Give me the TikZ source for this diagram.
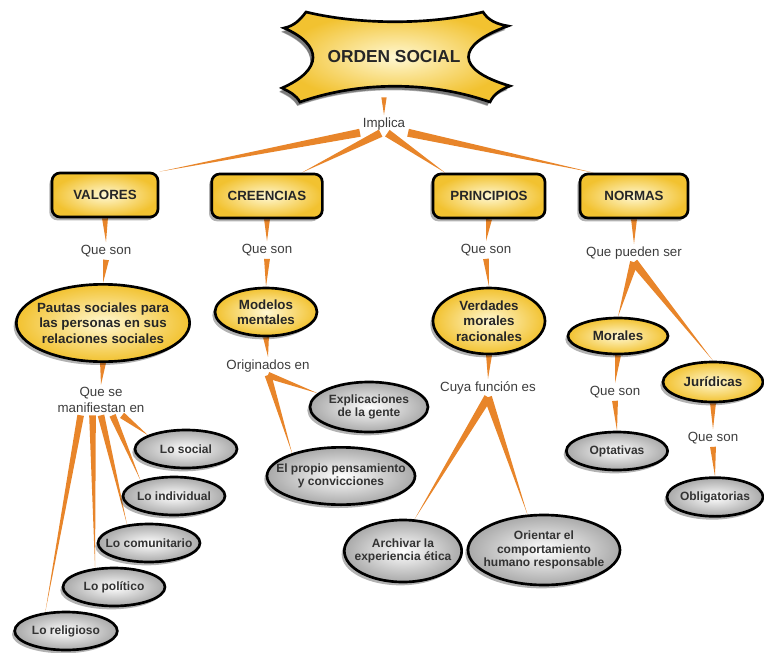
\documentclass[tikz,border=0pt]{standalone}
\usepackage{fontspec}
\setmainfont{Liberation Sans}
\usetikzlibrary{positioning,calc,shapes.geometric,shadows,backgrounds}
\definecolor{linkorange}{HTML}{E8852A}
\definecolor{boxyel}{HTML}{F2C230}
\definecolor{lightyel}{HTML}{FFF8D2}
\definecolor{ovalgray}{HTML}{A9A9A9}
\definecolor{labgray}{HTML}{3C3C3C}
% tapered connector: wide at the first node, pointed at the second
\newcommand{\taper}[3][2.2pt]{\fill[linkorange] ($(#2)!#1!90:(#3)$) -- ($(#2)!#1!-90:(#3)$) -- (#3) -- cycle;}

\begin{document}
\begin{tikzpicture}[x=0.75pt,y=-0.75pt,
    shade/.style={drop shadow={shadow xshift=-2pt,shadow yshift=-2.5pt,opacity=.3,fill=black}},
    box/.style={rectangle,rounded corners=6pt,draw=black,line width=2pt,inner color=lightyel,outer color=boxyel,
      shade,minimum height=33pt,text=black!85,font=\bfseries\fontsize{10}{12}\selectfont},
    yoval/.style={ellipse,draw=black,line width=2pt,inner color=lightyel,outer color=boxyel,shade,
      inner xsep=-20pt,inner ysep=0pt,align=center,text=black!85,font=\bfseries\fontsize{10}{11.5}\selectfont},
    goval/.style={ellipse,draw=black,line width=2pt,inner color=white,outer color=ovalgray,shade,
      inner xsep=-20pt,inner ysep=0pt,align=center,text=black!80,font=\bfseries\fontsize{9}{10.2}\selectfont},
    lab/.style={inner sep=2pt,align=center,text=labgray,font=\fontsize{10}{11.5}\selectfont}]
  \useasboundingbox (0,0) rectangle (764,653);

  % star shaped title
  \shadedraw[line width=2pt,inner color=lightyel,outer color=boxyel,
      preaction={fill=black,opacity=.3,transform canvas={shift={(-2pt,-3pt)}}}]
    (306,12) .. controls (360,25) and (430,25) .. (483,12)
    .. controls (488,20) and (496,24) .. (508,26)
    .. controls (455,45) and (455,70) .. (510,86)
    .. controls (500,90) and (494,94) .. (490,102)
    .. controls (430,81) and (360,81) .. (300,102)
    .. controls (296,95) and (290,92) .. (282,88)
    .. controls (323,70) and (323,45) .. (284,28)
    .. controls (294,26) and (300,20) .. cycle;
  \node[minimum height=60pt,text=black!85,font=\bfseries\fontsize{13}{15}\selectfont] (orden) at (394,57) {ORDEN SOCIAL};
  \node[lab] (implica) at (384,124) {Implica};
  \coordinate (ordenpie) at (orden.south -| implica.north);

  \node[box,minimum width=79.5pt] (valores) at (105,195) {VALORES};
  \node[box,minimum width=83pt] (creencias) at (267,196) {CREENCIAS};
  \node[box,minimum width=84pt] (principios) at (489,196) {PRINCIPIOS};
  \node[box,minimum width=81pt] (normas) at (634,196) {NORMAS};

  \node[lab] (qsval) at (106,251) {Que son};
  \node[lab] (qscre) at (267,250) {Que son};
  \node[lab] (qspri) at (486,250) {Que son};
  \node[lab] (qpn) at (634,253) {Que pueden ser};

  \node[yoval,minimum width=130pt,minimum height=58pt] (pautas) at (103,323) {Pautas sociales para\\las personas en sus\\relaciones sociales};
  \node[yoval,minimum width=76.5pt,minimum height=36pt] (modelos) at (266,312) {Modelos\\mentales};
  \node[yoval,minimum width=84pt,minimum height=49.5pt] (verdades) at (489,321) {Verdades\\morales\\racionales};
  \node[yoval,minimum width=75pt,minimum height=27pt] (morales) at (618,336) {Morales};
  \node[yoval,minimum width=75pt,minimum height=30pt] (juridicas) at (713,382) {Jurídicas};

  \node[lab] (manif) at (101,400) {Que se\\manifiestan en};
  \node[lab] (originados) at (268,366) {Originados en};
  \node[lab] (cuya) at (488,388) {Cuya función es};
  \node[lab] (qsmor) at (615,392) {Que son};
  \node[lab] (qsjur) at (713,438) {Que son};

  \node[goval,minimum width=76.5pt,minimum height=28.5pt] (lsocial) at (186,449) {Lo social};
  \node[goval,minimum width=76.5pt,minimum height=28.5pt] (lindiv) at (174,496) {Lo individual};
  \node[goval,minimum width=76.5pt,minimum height=28.5pt] (lcomun) at (149,543) {Lo comunitario};
  \node[goval,minimum width=76.5pt,minimum height=28.5pt] (lpolit) at (114,587) {Lo político};
  \node[goval,minimum width=77pt,minimum height=28.5pt] (lrelig) at (66,631) {Lo religioso};
  \node[goval,minimum width=88.5pt,minimum height=37.5pt] (explic) at (369,407) {Explicaciones\\de la gente};
  \node[goval,minimum width=111pt,minimum height=43pt] (propio) at (341,476) {El propio pensamiento\\y convicciones};
  \node[goval,minimum width=88pt,minimum height=46.5pt] (archivar) at (403,551) {Archivar la\\experiencia ética};
  \node[goval,minimum width=114pt,minimum height=52.5pt] (orientar) at (544,550) {Orientar el\\comportamiento\\humano responsable};
  \node[goval,minimum width=76pt,minimum height=28.5pt] (optativas) at (617,451) {Optativas};
  \node[goval,minimum width=72pt,minimum height=29pt] (oblig) at (715,497) {Obligatorias};

  \begin{scope}[on background layer]
    \taper[2pt]{ordenpie}{implica.north}
    \taper[3pt]{implica.200}{valores.north east}
    \taper[3pt]{implica.250}{creencias.34}
    \taper[3pt]{implica.290}{principios.152}
    \taper[3pt]{implica.340}{normas.150}
    \taper{valores.south}{qsval.north}
    \taper{qsval.south}{pautas.north}
    \taper{creencias.south}{qscre.north}
    \taper{qscre.south}{modelos.north}
    \taper{principios.south}{qspri.north}
    \taper{qspri.south}{verdades.north}
    \taper{normas.south}{qpn.north}
    \taper[3pt]{qpn.south}{morales.north}
    \taper[3pt]{qpn.south}{juridicas.north}
    \taper{pautas.south}{manif.north}
    \taper[2.5pt]{manif.217}{lrelig.138}
    \taper[2.5pt]{manif.241}{lpolit.135}
    \taper[2.5pt]{manif.270}{lcomun.140}
    \taper[2.5pt]{manif.307}{lindiv.155}
    \taper[2.5pt]{manif.324}{lsocial.160}
    \taper{modelos.south}{originados.north}
    \taper[2.5pt]{originados.south}{explic.165}
    \taper[2.5pt]{originados.south}{propio.155}
    \taper{verdades.south}{cuya.north}
    \taper[3pt]{cuya.south}{archivar.70}
    \taper[3pt]{cuya.south}{orientar.115}
    \taper{morales.south}{qsmor.north}
    \taper{qsmor.south}{optativas.north}
    \taper{juridicas.south}{qsjur.north}
    \taper{qsjur.south}{oblig.north}
  \end{scope}
\end{tikzpicture}
\end{document}
